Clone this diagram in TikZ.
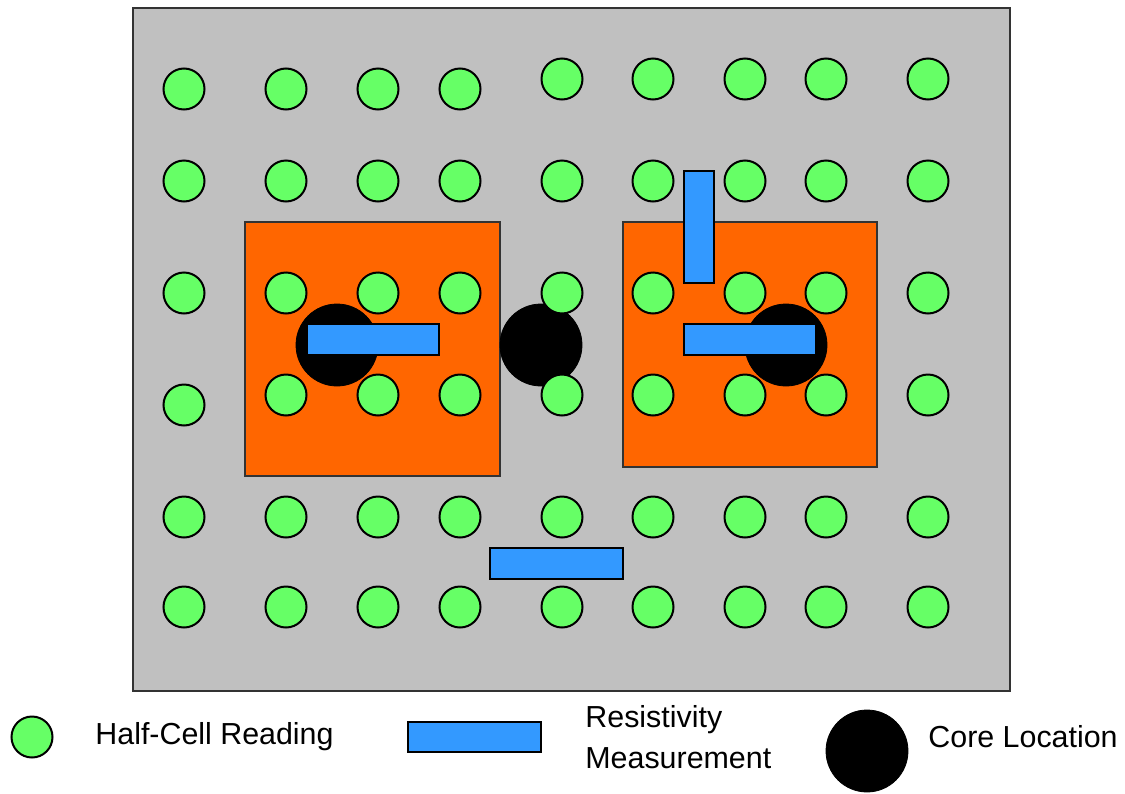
\documentclass[tikz,border=0pt]{standalone}
\usepackage{fontspec}
\setmainfont{Liberation Sans}
\definecolor{slab}{HTML}{C0C0C0}
\definecolor{zone}{HTML}{FF6600}
\definecolor{hcgreen}{HTML}{66FF66}
\definecolor{resblue}{HTML}{3399FF}
\tikzset{
  slabbox/.style={draw=black!80, line width=1pt, fill=slab},
  zonebox/.style={draw=black!80, line width=0.7pt, fill=zone},
  halfcell/.style={circle, draw=black, line width=1pt, fill=hcgreen, minimum size=20.5pt, inner sep=0pt},
  corehole/.style={circle, fill=black, draw=black, minimum size=41pt, inner sep=0pt},
  resbar/.style={draw=black, line width=1pt, fill=resblue},
  legtext/.style={font=\fontsize{15.2}{20.5}\selectfont, anchor=west, inner sep=0pt, align=left},
}
\begin{document}
\begin{tikzpicture}[x=0.5pt, y=-0.5pt]
\useasboundingbox (0,0) rectangle (1125,793);
% slab
\draw[slabbox] (133,8) rectangle (1010,691);
\coordinate (slabnw) at (133,8);
% zones
\draw[zonebox] (245,222) rectangle (500,476);
\draw[zonebox] (623,222) rectangle (877,467);
% cores
\node[corehole] (core1) at (337,345) {};
\node[corehole] (core2) at (541,345) {};
\node[corehole] (core3) at (786,345) {};
% half-cell readings
\foreach \x/\y [count=\i] in {184/89,286/89,378/89,460/89,562/79,653/79,745/79,826/79,928/79,
  184/181,286/181,378/181,460/181,562/181,653/181,745/181,826/181,928/181,
  184/293,286/293,378/293,460/293,562/293,653/293,745/293,826/293,928/293,
  184/405,286/395,378/395,460/395,562/395,653/395,745/395,826/395,928/395,
  184/517,286/517,378/517,460/517,562/517,653/517,745/517,826/517,928/517,
  184/607,286/607,378/607,460/607,562/607,653/607,745/607,826/607,928/607}
  \node[halfcell] (hc\i) at (\x,\y) {};
% resistivity measurements
\draw[resbar] (307,324) rectangle (439,355);
\draw[resbar] (684,324) rectangle (816,355);
\draw[resbar] (684,171) rectangle (714,283);
\draw[resbar] (490,548) rectangle (623,579);
% legend
\node[halfcell] (leghc) at (32,737) {};
\node[legtext] (leghctext) at (95,737) {Half-Cell Reading};
\draw[resbar] (408,722) rectangle (541,752);
\node[legtext] (legrestext) at (585,737) {Resistivity\\Measurement};
\node[corehole] (legcore) at (867,751) {};
\node[legtext] (legcoretext) at (928,737) {Core Location};
\end{tikzpicture}
\end{document}
